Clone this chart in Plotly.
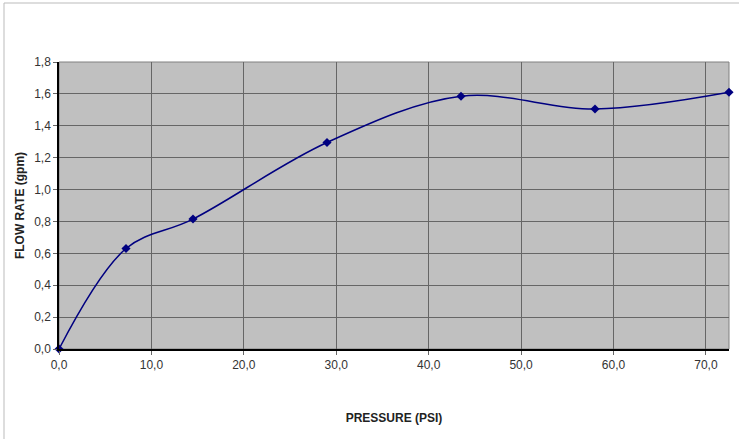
import plotly.graph_objects as go

pressure_psi = [0.0, 7.25, 14.5, 29.0, 43.5, 58.0, 72.5]
flow_gpm = [0.0, 0.63, 0.815, 1.295, 1.585, 1.505, 1.61]

x_title = "PRESSURE (PSI)"
y_title = "FLOW RATE (gpm)"

fig = go.Figure()
fig.add_trace(go.Scatter(
    x=pressure_psi, y=flow_gpm, mode="lines+markers",
    line=dict(color="#000080", width=1.5, shape="spline", smoothing=1.0),
    marker=dict(symbol="diamond", size=7, color="#000080"),
    cliponaxis=False, showlegend=False,
))

font = dict(family="Liberation Sans, Arial, sans-serif", size=12, color="#333333")

fig.update_layout(
    width=739, height=439,
    margin=dict(l=59, r=10, t=62, b=90),
    paper_bgcolor="white", plot_bgcolor="#C0C0C0",
    separators=",.",
    font=font,
    xaxis=dict(
        range=[0, 72.5], dtick=10, tick0=0, tickformat=".1f",
        showgrid=True, gridcolor="#666666", gridwidth=1,
        showline=True, linecolor="black", linewidth=1.5,
        ticks="outside", ticklen=4, tickcolor="#666666",
        zeroline=False, fixedrange=True,
        title=dict(text="<b>" + x_title + "</b>", font=dict(size=12, color="#222222"), standoff=42),
    ),
    yaxis=dict(
        range=[0, 1.8], dtick=0.2, tick0=0, tickformat=".1f",
        showgrid=True, gridcolor="#666666", gridwidth=1,
        showline=True, linecolor="black", linewidth=1.5,
        ticks="outside", ticklen=4, tickcolor="#666666",
        zeroline=False, fixedrange=True,
        title=dict(text="<b>" + y_title + "</b>", font=dict(size=12, color="#222222"), standoff=7),
    ),
    shapes=[
        dict(type="rect", xref="paper", yref="paper", x0=0, y0=0, x1=1, y1=1,
             line=dict(color="#808080", width=1), layer="below"),
        dict(type="line", xref="paper", yref="paper", x0=-55/670, x1=1.2, y0=1+59/287, y1=1+59/287,
             line=dict(color="#BBBBBB", width=1)),
        dict(type="line", xref="paper", yref="paper", x0=-55/670, x1=-55/670, y0=1+59/287, y1=-0.5,
             line=dict(color="#BBBBBB", width=1)),
    ],
)

fig.write_html("out.html", config={"displayModeBar": False},
               post_script="document.body.style.margin='0';document.body.style.padding='0';")
